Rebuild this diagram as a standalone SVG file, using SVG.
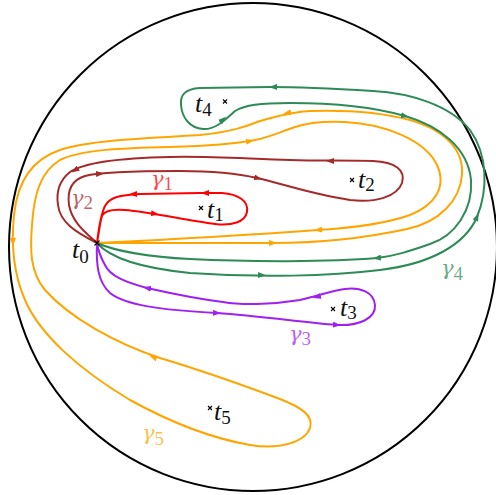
<svg xmlns="http://www.w3.org/2000/svg" width="496" height="495" viewBox="0 0 496 495">
<style>
.c{fill:none;stroke-width:2;stroke-linejoin:round}
.a{fill:none;stroke:none}
.lab{font-family:"Liberation Serif","DejaVu Serif",serif;font-style:italic;font-size:26px;fill:#111}
.sub{font-family:"Liberation Serif","DejaVu Serif",serif;font-style:normal;font-size:19px}
.g{font-family:"DejaVu Serif","Liberation Serif",serif;font-style:italic;font-size:21px;fill-opacity:0.72}
.x{stroke:#000;stroke-width:1.1}
</style>
<defs>
<marker id="m-red" viewBox="0 0 8 6" refX="4" refY="3" markerWidth="8" markerHeight="6" markerUnits="userSpaceOnUse" orient="auto"><path d="M0,0 L8,3 L0,6 z" fill="#ff0000"/></marker>
<marker id="m-brown" viewBox="0 0 8 6" refX="4" refY="3" markerWidth="8" markerHeight="6" markerUnits="userSpaceOnUse" orient="auto"><path d="M0,0 L8,3 L0,6 z" fill="#a52a2a"/></marker>
<marker id="m-green" viewBox="0 0 8 6" refX="4" refY="3" markerWidth="8" markerHeight="6" markerUnits="userSpaceOnUse" orient="auto"><path d="M0,0 L8,3 L0,6 z" fill="#2e8b57"/></marker>
<marker id="m-orange" viewBox="0 0 8 6" refX="4" refY="3" markerWidth="8" markerHeight="6" markerUnits="userSpaceOnUse" orient="auto"><path d="M0,0 L8,3 L0,6 z" fill="#ffa500"/></marker>
<marker id="m-purple" viewBox="0 0 8 6" refX="4" refY="3" markerWidth="8" markerHeight="6" markerUnits="userSpaceOnUse" orient="auto"><path d="M0,0 L8,3 L0,6 z" fill="#a020f0"/></marker>
</defs>
<rect width="496" height="495" fill="#fff"/>
<g id="disk"><circle cx="253" cy="247" r="244" fill="none" stroke="#000" stroke-width="2"/></g>
<g id="connectors">
<g id="gamma5">
<path class="c" stroke="#ffa500" d="M97,243 C150,243 220,243 273,243 C320,243 370,237 407,229 C440,222 460,200 462,175 C464,150 445,130 410,120 C380,112 340,110 310,111 C290,112 275,117 260,121 C245,127 230,132 200,135 C150,138 90,140 60,150 C30,160 17,185 14,215 C11,245 14,275 25,300 C40,335 80,370 130,400 C170,422 210,438 250,445 C280,450 305,442 310,428 C314,415 300,407 280,399 C240,384 200,370 160,358 C115,343 70,318 45,290 C30,272 30,250 32,225 C34,195 40,172 60,160 C80,150 120,148 170,147 C210,146 235,144 255,140 C270,137 280,132 295,127 C310,122 325,121 345,122 C385,124 425,140 437,165 C447,187 435,205 410,215 C385,224 350,228 318,230 C250,235 160,240 97,243"/>
<path class="a" d="M268,243 L273,243" marker-end="url(#m-orange)"/>
<path class="a" d="M292,112 L287,113" marker-end="url(#m-orange)"/>
<path class="a" d="M13,237 L13,242" marker-end="url(#m-orange)"/>
<path class="a" d="M158,359 L153,357" marker-end="url(#m-orange)"/>
<path class="a" d="M245,142 L250,141" marker-end="url(#m-orange)"/>
<path class="a" d="M323,229.6 L318,230" marker-end="url(#m-orange)"/>
</g>
<g id="gamma4">
<path class="c" stroke="#2e8b57" d="M97,243 C110,258 140,268 190,273 C260,278 330,276 380,270 C430,264 465,245 477,217 C488,190 488,155 470,130 C450,105 410,93 373,91 C340,89 300,87 270,87 L200,88 C185,89 180,95 181,105 C182,118 190,128 203,129 C215,130 225,120 235,111 C245,105 260,103 290,103 C330,103 370,106 405,116 C440,126 468,148 471,180 C473,210 455,236 430,244 C410,251 395,256 377,258 C330,262 250,262 190,259 C150,257 115,251 97,243"/>
<path class="a" d="M257,275 L262,275.2" marker-end="url(#m-green)"/>
<path class="a" d="M475,221.5 L477,217" marker-end="url(#m-green)"/>
<path class="a" d="M278,87 L273,87" marker-end="url(#m-green)"/>
<path class="a" d="M219,123 L223,119.5" marker-end="url(#m-green)"/>
<path class="a" d="M400,114.8 L405,116" marker-end="url(#m-green)"/>
<path class="a" d="M382,257.4 L377,258" marker-end="url(#m-green)"/>
</g>
<g id="gamma3">
<path class="c" stroke="#a020f0" d="M97,243 C96,265 98,282 110,293 C125,305 160,310 217,313 C260,316 300,322 337,325 C360,326 376,318 375,305 C374,292 360,287 345,289 C330,291 318,296 300,300 C270,305 240,305 223,302 C190,298 165,292 147,288 C125,282 110,276 105,265 C100,256 98,250 97,243"/>
<path class="a" d="M212,312.7 L217,313" marker-end="url(#m-purple)"/>
<path class="a" d="M332,324.6 L337,325" marker-end="url(#m-purple)"/>
<path class="a" d="M322,295.6 L317,297" marker-end="url(#m-purple)"/>
<path class="a" d="M152,289 L147,288" marker-end="url(#m-purple)"/>
</g>
<g id="gamma2">
<path class="c" stroke="#a52a2a" d="M97,243 C85,232 72,222 69,205 C67,190 72,180 85,176 C100,172 130,171 180,171 C210,171 240,174 257,178 C280,183 310,194 350,200 C375,203 397,197 402,183 C406,170 395,162 373,161 C345,160 320,161 290,160 C250,159 210,156 170,157 C120,158 85,162 70,172 C60,180 56,192 58,205 C60,222 75,232 97,243"/>
<path class="a" d="M95,174 L100,173.7" marker-end="url(#m-brown)"/>
<path class="a" d="M253,177 L258,178.2" marker-end="url(#m-brown)"/>
<path class="a" d="M335,161 L330,161" marker-end="url(#m-brown)"/>
<path class="a" d="M79,167.5 L75,170.2" marker-end="url(#m-brown)"/>
</g>
<g id="gamma1">
<path class="c" stroke="#ff0000" d="M97,243 C99,232 100,222 102,216 C104,211 112,209 125,210 C150,212 185,220 215,224 C232,226 245,222 247,212 C249,201 238,194 222,193 L200,193 L140,194 C120,195 110,197 105,206 C101,214 99,226 97,243"/>
<path class="a" d="M150,213 L155,213.8" marker-end="url(#m-red)"/>
<path class="a" d="M210,193 L205,193" marker-end="url(#m-red)"/>
<path class="a" d="M138,194 L133,194.2" marker-end="url(#m-red)"/>
</g>
</g>
<g id="t0"><path class="x" d="M94.5,240.5 L99.5,245.5 M99.5,240.5 L94.5,245.5"/><text class="lab" x="72" y="258">t<tspan class="sub" dy="5">0</tspan></text></g>
<g id="t1"><path class="x" d="M199,206 L203,210 M203,206 L199,210"/><text class="lab" x="207" y="218">t<tspan class="sub" dy="3">1</tspan></text></g>
<g id="t2"><path class="x" d="M350,178 L354,182 M354,178 L350,182"/><text class="lab" x="358" y="188">t<tspan class="sub" dy="3">2</tspan></text></g>
<g id="t3"><path class="x" d="M331,307 L335,311 M335,307 L331,311"/><text class="lab" x="340" y="316">t<tspan class="sub" dy="3">3</tspan></text></g>
<g id="t4"><path class="x" d="M223,99.5 L227,103.5 M227,99.5 L223,103.5"/><text class="lab" x="195" y="112">t<tspan class="sub" dy="4">4</tspan></text></g>
<g id="t5"><path class="x" d="M208,406 L212,410 M212,406 L208,410"/><text class="lab" x="214" y="420">t<tspan class="sub" dy="4">5</tspan></text></g>
<g id="labels">
<text class="g" fill="#ff0000" x="151" y="186">γ<tspan class="sub" dy="4">1</tspan></text>
<text class="g" fill="#a52a2a" x="71" y="205">γ<tspan class="sub" dy="4">2</tspan></text>
<text class="g" fill="#a020f0" x="289" y="341">γ<tspan class="sub" dy="4">3</tspan></text>
<text class="g" fill="#2e8b57" x="441" y="275">γ<tspan class="sub" dy="5">4</tspan></text>
<text class="g" fill="#ffa500" x="142" y="440">γ<tspan class="sub" dy="5">5</tspan></text>
</g>
</svg>
